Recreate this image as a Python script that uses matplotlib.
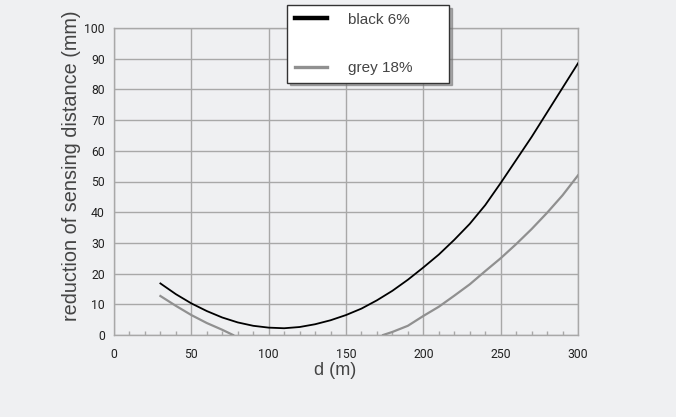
import numpy as np
import matplotlib
matplotlib.use("Agg")
import matplotlib.pyplot as plt
from matplotlib.ticker import MultipleLocator

# ---------------------------------------------------------------------------
# Data
# ---------------------------------------------------------------------------
d_black = [30, 40, 50, 60, 70, 80, 90, 100, 110, 120, 130, 140, 150, 160, 170,
           180, 190, 200, 210, 220, 230, 240, 250, 260, 270, 280, 290, 300]
red_black = [16.8, 13.3, 10.3, 7.8, 5.7, 4.1, 3.0, 2.4, 2.2, 2.6, 3.5, 4.8, 6.5,
             8.6, 11.3, 14.4, 18.0, 22.0, 26.2, 31.0, 36.2, 42.3, 49.5, 57.0,
             64.5, 72.5, 80.5, 88.5]

# grey curve drops below zero between ~77 m and ~174 m (not drawn there)
d_grey_left = [30, 40, 50, 60, 70, 77]
red_grey_left = [12.7, 9.5, 6.5, 3.9, 1.7, 0.0]
d_grey_right = [174, 180, 190, 200, 210, 220, 230, 240, 250, 260, 270, 280, 290, 300]
red_grey_right = [0.0, 1.0, 3.0, 6.2, 9.2, 12.8, 16.5, 20.8, 25.0, 29.6, 34.5,
                  39.8, 45.5, 52.0]

x_ticks = [0, 50, 100, 150, 200, 250, 300]
y_ticks = [0, 10, 20, 30, 40, 50, 60, 70, 80, 90, 100]
series_labels = ["black 6%", "grey 18%"]

BG = "#eff0f2"
GRID = "#a8a8a8"
TXT = "#444444"

fig = plt.figure(figsize=(6.76, 4.17), dpi=100, facecolor=BG)
ax = fig.add_axes([114 / 676, 1 - 335 / 417, 464 / 676, 307 / 417])
ax.set_facecolor(BG)

ax.plot(d_black, red_black, color="black", lw=1.3, zorder=3)
ax.plot(d_grey_left, red_grey_left, color="#909090", lw=1.6, zorder=3)
ax.plot(d_grey_right, red_grey_right, color="#909090", lw=1.6, zorder=3)

ax.set_xlim(0, 300)
ax.set_ylim(0, 100)
ax.set_xticks(x_ticks)
ax.set_yticks(y_ticks)
ax.xaxis.set_minor_locator(MultipleLocator(10))
ax.grid(True, which="major", color=GRID, lw=1.0)
ax.set_axisbelow(True)
for s in ax.spines.values():
    s.set_color(GRID)
    s.set_linewidth(1.0)

ax.tick_params(which="major", length=0, labelsize=8.8, labelcolor="#222222")
ax.tick_params(axis="x", which="major", pad=9)
ax.tick_params(axis="y", which="major", pad=6.5)
ax.tick_params(axis="x", which="minor", direction="in", length=3, color=GRID, width=1)
for lab in ax.get_xticklabels() + ax.get_yticklabels():
    lab.set_family("Roboto")

ax.set_xlabel("d (m)", fontsize=13, color=TXT, family="Liberation Sans", va="top")
ax.xaxis.set_label_coords((335 - 114) / 464, -27 / 307)
ax.set_ylabel("reduction of sensing distance (mm)", fontsize=14.3, color=TXT,
              family="Liberation Sans")
ax.yaxis.set_label_coords((81 - 114) / 464, (335 - 166) / 307)

# legend with thicker sample lines
h_black = plt.Line2D([], [], color="black", lw=3.2)
h_grey = plt.Line2D([], [], color="#909090", lw=2.4)
leg = ax.legend([h_black, h_grey], series_labels, loc="upper left",
                bbox_to_anchor=(0.373, 1.075, 0.349, 0.0), mode="expand",
                frameon=True, fancybox=False, shadow={"color": "#777777", "alpha": 0.6},
                prop={"family": "Liberation Sans", "size": 11},
                labelspacing=2.25, borderpad=0.5, handlelength=2.1,
                handletextpad=1.4, borderaxespad=0)
leg.get_frame().set_edgecolor("#333333")
leg.get_frame().set_linewidth(1.0)
leg.get_frame().set_facecolor("white")
for t in leg.get_texts():
    t.set_color(TXT)

fig.savefig("out.png", dpi=100, facecolor=BG)
